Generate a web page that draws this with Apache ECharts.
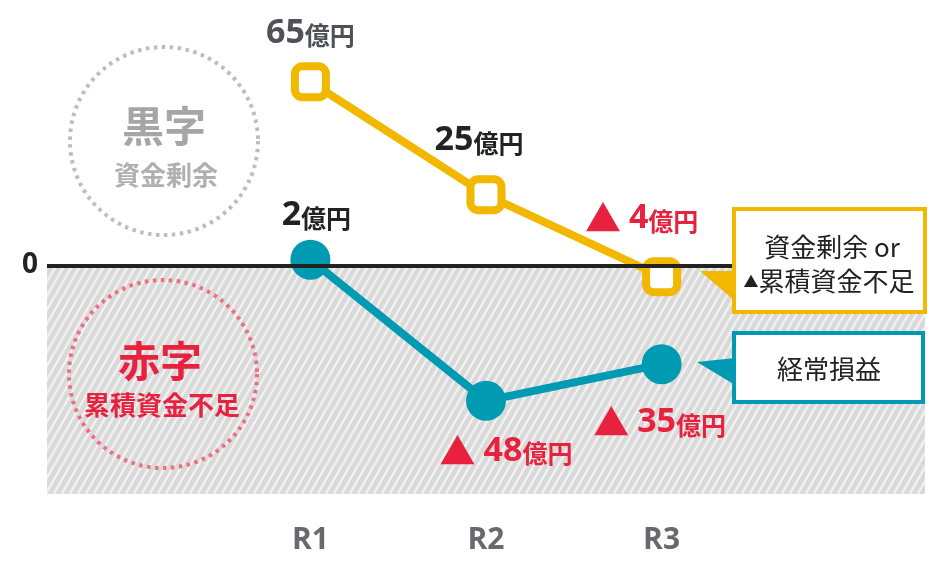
<!DOCTYPE html>
<html><head><meta charset="utf-8">
<script src="https://cdn.jsdelivr.net/npm/echarts@6/dist/echarts.min.js"></script>
<style>html,body{margin:0;padding:0;background:#fff}#c{width:937px;height:562px}</style>
</head><body><div id="c"></div>
<script>
const categories = ['R1', 'R2', 'R3'];
const surplus = [65, 25, -4];      // 資金剰余 or ▲累積資金不足
const ordinary = [2, -48, -35];    // 経常損益
const yTicks = [0];
const unit = '億円';

// label placement (style only): offset from the point, px
const surplusLabelOffset = [[0, -49], [-7, -54], [-20, -58]];
const ordinaryLabelOffset = [[6, -44], [20, 50], [-2, 58]];

const FONT = '"Open Sans","Noto Sans CJK JP",sans-serif';
const JP = '"Noto Sans CJK JP","Open Sans",sans-serif';
const YEL = '#f2b800', TEAL = '#009ab3', RED = '#e8223e';

function makePattern() {
  const w = 8, h = 14;
  const c = document.createElement('canvas');
  c.width = w; c.height = h;
  const g = c.getContext('2d');
  g.fillStyle = '#d9d9d9'; g.fillRect(0, 0, w, h);
  g.strokeStyle = '#f1f1f1'; g.lineWidth = 2.6;
  for (const dx of [-w, 0, w]) {
    g.beginPath(); g.moveTo(dx, h); g.lineTo(dx + w, 0); g.stroke();
  }
  return c;
}

const rich = {
  tri: { color: RED, fontSize: 36, fontFamily: JP, padding: [0, 8, 0, 0] },
  neg: { color: RED, fontSize: 34, fontWeight: 'bold', fontFamily: FONT },
  negu: { color: RED, fontSize: 25, fontWeight: 'bold', fontFamily: JP, padding: [6, 0, 0, 0] },
  pos: { color: '#222', fontSize: 34, fontWeight: 'bold', fontFamily: FONT },
  posu: { color: '#222', fontSize: 25, fontWeight: 'bold', fontFamily: JP, padding: [6, 0, 0, 0] },
  posg: { color: '#505058', fontSize: 34, fontWeight: 'bold', fontFamily: FONT },
  posgu: { color: '#505058', fontSize: 25, fontWeight: 'bold', fontFamily: JP, padding: [6, 0, 0, 0] }
};
function fmt(p) {
  const v = p.value[1];
  if (v < 0) return '{tri|▲}{neg|' + (-v) + '}{negu|' + unit + '}';
  if (p.seriesIndex === 1 && p.dataIndex === 0) return '{posg|' + v + '}{posgu|' + unit + '}';
  return '{pos|' + v + '}{posu|' + unit + '}';
}

const chart = echarts.init(document.getElementById('c'), null, { renderer: 'canvas' });
chart.setOption({
  animation: false,
  grid: { left: 47, width: 878, top: 0, height: 494, containLabel: false },
  xAxis: {
    type: 'value', min: -0.5, max: 4.5,
    splitLine: { show: false }, axisLine: { show: false }, axisTick: { show: false },
    axisLabel: {
      customValues: categories.map((c, i) => i + 1),
      formatter: v => categories[Math.round(v) - 1] || '',
      margin: 31, fontSize: 30, fontWeight: 'bold', color: '#68686e', fontFamily: FONT
    }
  },
  yAxis: {
    type: 'value', min: -81, max: 94,
    splitLine: { show: false }, axisLine: { show: false }, axisTick: { show: false },
    axisLabel: {
      customValues: yTicks, margin: 9, fontSize: 28, fontWeight: 'bold', color: '#222', fontFamily: FONT
    }
  },
  series: [
    {
      type: 'line', name: '経常損益', z: 3,
      data: ordinary.map((v, i) => ({
        value: [i + 1, v],
        label: { offset: ordinaryLabelOffset[i] }
      })),
      symbol: 'circle', symbolSize: 40,
      lineStyle: { color: TEAL, width: 8 },
      itemStyle: { color: TEAL },
      label: { show: true, position: 'inside', formatter: fmt, rich: rich },
      markArea: {
        silent: true,
        itemStyle: { color: { image: makePattern(), repeat: 'repeat' } },
        data: [[{ yAxis: -81 }, { yAxis: 0 }]]
      },
      markLine: {
        silent: true, symbol: 'none', label: { show: false },
        lineStyle: { color: '#222', width: 4, type: 'solid' },
        data: [{ yAxis: 0 }]
      }
    },
    {
      type: 'line', name: '資金剰余 or ▲累積資金不足', z: 4,
      data: surplus.map((v, i) => ({
        value: [i + 1, v],
        label: { offset: surplusLabelOffset[i] }
      })),
      symbol: 'roundRect', symbolSize: 31,
      lineStyle: { color: YEL, width: 8 },
      itemStyle: { color: '#fff', borderColor: YEL, borderWidth: 8, borderJoin: 'round' },
      label: { show: true, position: 'inside', formatter: fmt, rich: rich }
    }
  ],
  graphic: [
    { type: 'circle', z: 1, shape: { cx: 164, cy: 141, r: 94 },
      style: { fill: 'none', stroke: '#bdbdbd', lineWidth: 4, lineDash: [3.5, 4.5] } },
    { type: 'text', z: 2, style: { text: '黒字', x: 164, y: 126, align: 'center', verticalAlign: 'middle',
      font: 'bold 42px "Noto Sans CJK JP"', fill: '#a6a6a6' } },
    { type: 'text', z: 2, style: { text: '資金剰余', x: 166, y: 175, align: 'center', verticalAlign: 'middle',
      font: 'bold 26px "Noto Sans CJK JP"', fill: '#b0b0b0' } },
    { type: 'circle', z: 5, shape: { cx: 163, cy: 374, r: 94 },
      style: { fill: 'none', stroke: '#ee6f80', lineWidth: 4, lineDash: [3.5, 4.5] } },
    { type: 'text', z: 5, style: { text: '赤字', x: 160, y: 361, align: 'center', verticalAlign: 'middle',
      font: 'bold 42px "Noto Sans CJK JP"', fill: RED } },
    { type: 'text', z: 5, style: { text: '累積資金不足', x: 162, y: 405, align: 'center', verticalAlign: 'middle',
      font: 'bold 26px "Noto Sans CJK JP"', fill: RED } },

    { type: 'polygon', z: 10, shape: { points: [[700, 271], [735, 271], [735, 301]] }, style: { fill: YEL } },
    { type: 'rect', z: 11, shape: { x: 734, y: 209, width: 191, height: 103 },
      style: { fill: '#fff', stroke: YEL, lineWidth: 4 } },
    { type: 'text', z: 12, style: { text: '資金剰余 or', x: 832, y: 247, align: 'center', verticalAlign: 'middle',
      font: '26px "Noto Sans CJK JP"', fill: '#222' } },
    { type: 'text', z: 12, style: { text: '{s|▲}累積資金不足', x: 829, y: 281, align: 'center', verticalAlign: 'middle',
      font: '26px "Noto Sans CJK JP"', fill: '#222',
      rich: { s: { fontSize: 15, fill: '#222', fontFamily: '"Noto Sans CJK JP"' } } } },

    { type: 'polygon', z: 10, shape: { points: [[697, 362], [735, 358], [735, 385]] }, style: { fill: TEAL } },
    { type: 'rect', z: 11, shape: { x: 734, y: 333, width: 189, height: 69 },
      style: { fill: '#fff', stroke: TEAL, lineWidth: 4 } },
    { type: 'text', z: 12, style: { text: '経常損益', x: 829, y: 369, align: 'center', verticalAlign: 'middle',
      font: '26px "Noto Sans CJK JP"', fill: '#222' } }
  ]
});
</script>
</body></html>
